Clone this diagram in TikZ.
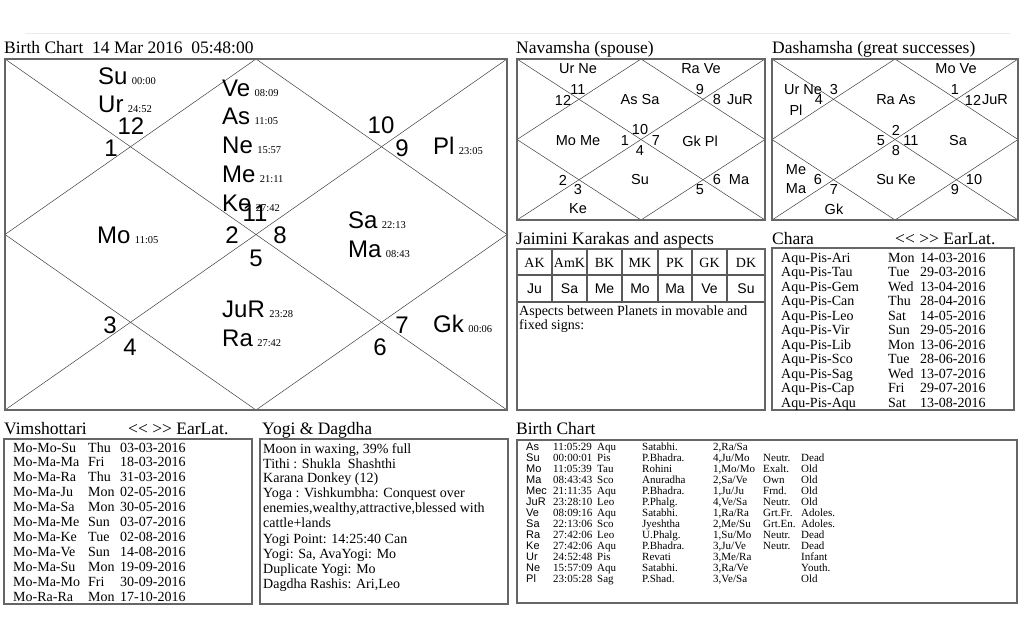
\documentclass[tikz,border=0pt]{standalone}
\usepackage{fontspec}
\setmainfont{Liberation Serif}
\newfontfamily\sansf{Liberation Sans}
\newcommand\kundli[5]{%
  \coordinate (#1-tl) at (#2,#3);
  \coordinate (#1-tr) at (#4,#3);
  \coordinate (#1-bl) at (#2,#5);
  \coordinate (#1-br) at (#4,#5);
  \coordinate (#1-t) at ({(#2+#4)/2},#3);
  \coordinate (#1-b) at ({(#2+#4)/2},#5);
  \coordinate (#1-l) at (#2,{(#3+#5)/2});
  \coordinate (#1-r) at (#4,{(#3+#5)/2});
  \draw[chartline] (#1-tl) -- (#1-br);
  \draw[chartline] (#1-tr) -- (#1-bl);
  \draw[chartline] (#1-t) -- (#1-r) -- (#1-b) -- (#1-l) -- cycle;
  \draw[box] (#1-tl) rectangle (#1-br);
}
\begin{document}
\begin{tikzpicture}[x=1pt,y=-1pt,
  box/.style={draw=black!60, line width=1.5pt},
  thinbox/.style={draw=black!65, line width=1.1pt},
  chartline/.style={draw=black!75, line width=0.5pt},
  title/.style={anchor=base west, inner sep=0, font=\fontsize{17.5}{17.5}\selectfont},
  pl/.style={anchor=base west, inner sep=0, font=\sansf\fontsize{24}{24}\selectfont},
  deg/.style={anchor=base west, inner sep=0, font=\fontsize{10.5}{10.5}\selectfont},
  num/.style={anchor=base, inner sep=0, font=\sansf\fontsize{24}{24}\selectfont},
  sm/.style={anchor=center, inner sep=0, font=\sansf\fontsize{14.5}{14.5}\selectfont},
  row/.style={anchor=base west, inner sep=0, font=\fontsize{14}{14}\selectfont},
  hd/.style={anchor=center, inner sep=0, font=\fontsize{14}{14}\selectfont},
  hs/.style={anchor=center, inner sep=0, font=\sansf\fontsize{14}{14}\selectfont},
  tb/.style={anchor=base west, inner sep=0, font=\fontsize{11}{11}\selectfont},
  tbs/.style={anchor=base west, inner sep=0, font=\sansf\fontsize{11}{11}\selectfont},
]
\useasboundingbox (0,0) rectangle (1024,640);
\fill[white] (0,0) rectangle (1024,640);
\draw[black!8, line width=0.8pt] (25,33) -- (1010,33);

% ---------------- Main birth chart ----------------
\node[title] (t-main) at (4,53) {Birth Chart\ \ 14 Mar 2016\ \ 05:48:00};
\kundli{mc}{5}{59}{507}{410}
\foreach \x/\y/\p/\d [count=\i] in {98/84/Su/00:00, 98/112/Ur/24:52,
   222/96/Ve/08:09, 222/124/As/11:05, 222/153/Ne/15:57, 222/182/Me/21:11,
   222/211/Ke/27:42, 97/243/Mo/11:05, 348/228/Sa/22:13, 348/257/Ma/08:43,
   433/154/Pl/23:05, 222/317/JuR/23:28, 222/346/Ra/27:42, 433/332/Gk/00:06}{
  \node[pl] (mp\i) at (\x,\y) {\p};
  \node[deg] (md\i) at ([xshift=4pt]mp\i.base east) {\d};
}
\foreach \x/\y/\n in {131/134/12, 111/156/1, 381/133/10, 402/156/9,
   255/221/11, 232/243/2, 280/243/8, 256/266/5,
   110/333/3, 130/355/4, 402/333/7, 380/355/6}{
  \node[num] (mn\n) at (\x,\y) {\n};
}

% ---------------- Navamsha ----------------
\node[title] (t-nav) at (516,53) {Navamsha (spouse)};
\kundli{nv}{517}{59}{765}{220}
\foreach \x/\y/\t [count=\i] in {578/69/Ur Ne, 701/69/Ra Ve, 578/90/11, 563/100/12,
   640/100/As Sa, 700/90/9, 717/100/8, 740/100/JuR, 578/141/Mo Me, 625/141/1,
   640/130/10, 656/141/7, 640/151/4, 700/141/Gk Pl, 563/180/2, 578/190/3,
   640/180/Su, 700/190/5, 717/180/6, 739/180/Ma, 578/209/Ke}{
  \node[sm] (nv\i) at (\x,\y) {\t};
}

% ---------------- Dashamsha ----------------
\node[title] (t-das) at (772,53) {Dashamsha (great successes)};
\kundli{ds}{772}{59}{1018}{220}
\foreach \x/\y/\t [count=\i] in {956/69/Mo Ve, 803/90/Ur Ne, 834/90/3, 819/100/4,
   796/110/Pl, 896/100/Ra As, 955/90/1, 973/100/12, 995/100/JuR, 896/130/2,
   881/141/5, 911/141/11, 896/151/8, 958/141/Sa, 796/170/Me, 796/189/Ma,
   818/180/6, 834/190/7, 896/180/Su Ke, 955/190/9, 974/180/10, 834/209/Gk}{
  \node[sm] (ds\i) at (\x,\y) {\t};
}

% ---------------- Jaimini ----------------
\node[title] (t-jai) at (516,244) {Jaimini Karakas and aspects};
\draw[thinbox] (517,275) -- (765,275);
\draw[thinbox] (517,302) -- (765,302);
\foreach \x in {552,587,622,658,692,727}{
  \draw[thinbox] (\x,249) -- (\x,302);
}
\draw[box] (517,249) rectangle (765,410);
\foreach \x/\h/\p [count=\i] in {534.5/AK/Ju, 569.5/AmK/Sa, 604.5/BK/Me, 640/MK/Mo,
   675/PK/Ma, 709.5/GK/Ve, 746/DK/Su}{
  \node[hd] (jh\i) at (\x,263) {\h};
  \node[hs] (jp\i) at (\x,289) {\p};
}
\node[row] (asp1) at (519,315) {Aspects between Planets in movable and};
\node[row] (asp2) at (519,329) {fixed signs:};

% ---------------- Chara ----------------
\node[title] (t-cha) at (772,244) {Chara};
\node[title] (t-cha2) at (895,244) {{<}{<}\ {>}{>} EarLat.};
\draw[box] (772,248) rectangle (1014,410);
\foreach \a/\b/\c [count=\i from 0] in {Aqu-Pis-Ari/Mon/14-03-2016, Aqu-Pis-Tau/Tue/29-03-2016,
   Aqu-Pis-Gem/Wed/13-04-2016, Aqu-Pis-Can/Thu/28-04-2016, Aqu-Pis-Leo/Sat/14-05-2016,
   Aqu-Pis-Vir/Sun/29-05-2016, Aqu-Pis-Lib/Mon/13-06-2016, Aqu-Pis-Sco/Tue/28-06-2016,
   Aqu-Pis-Sag/Wed/13-07-2016, Aqu-Pis-Cap/Fri/29-07-2016, Aqu-Pis-Aqu/Sat/13-08-2016}{
  \node[row] (ca\i) at (781,{262+14.5*\i}) {\a};
  \node[row] (cb\i) at (888,{262+14.5*\i}) {\b};
  \node[row] (cc\i) at (920,{262+14.5*\i}) {\c};
}

% ---------------- Vimshottari ----------------
\node[title] (t-vim) at (4,434) {Vimshottari};
\node[title] (t-vim2) at (128,434) {{<}{<}\ {>}{>} EarLat.};
\draw[box] (4,439) rectangle (252,604);
\foreach \a/\b/\c [count=\i from 0] in {Mo-Mo-Su/Thu/03-03-2016, Mo-Ma-Ma/Fri/18-03-2016,
   Mo-Ma-Ra/Thu/31-03-2016, Mo-Ma-Ju/Mon/02-05-2016, Mo-Ma-Sa/Mon/30-05-2016,
   Mo-Ma-Me/Sun/03-07-2016, Mo-Ma-Ke/Tue/02-08-2016, Mo-Ma-Ve/Sun/14-08-2016,
   Mo-Ma-Su/Mon/19-09-2016, Mo-Ma-Mo/Fri/30-09-2016, Mo-Ra-Ra/Mon/17-10-2016}{
  \node[row] (va\i) at (13,{452+14.9*\i}) {\a};
  \node[row] (vb\i) at (88,{452+14.9*\i}) {\b};
  \node[row] (vc\i) at (120,{452+14.9*\i}) {\c};
}

% ---------------- Yogi & Dagdha ----------------
\node[title] (t-yog) at (262,434) {Yogi \& Dagdha};
\draw[box] (260,439) rectangle (508,604);
\node[row] (y1) at (263,453) {Moon in waxing, 39\% full};
\node[row] (y2) at (263,468) {Tithi : Shukla\ \ Shashthi};
\node[row] (y3) at (263,482) {Karana Donkey (12)};
\node[row] (y4) at (263,497) {Yoga : Vishkumbha: Conquest over};
\node[row] (y5) at (263,512) {enemies,wealthy,attractive,blessed with};
\node[row] (y6) at (263,527) {cattle+lands};
\node[row] (y7) at (263,543) {Yogi Point: 14:25:40 Can};
\node[row] (y8) at (263,558) {Yogi: Sa, AvaYogi: Mo};
\node[row] (y9) at (263,573) {Duplicate Yogi: Mo};
\node[row] (y10) at (263,588) {Dagdha Rashis: Ari,Leo};

% ---------------- Birth Chart table ----------------
\node[title] (t-bc) at (516,434) {Birth Chart};
\draw[box] (517,440) rectangle (1017,603);
\foreach \a/\b/\c/\d/\e/\f/\g [count=\i from 0] in {
   As/11:05:29/Aqu/Satabhi./{2,Ra/Sa}/{}/{},
   Su/00:00:01/Pis/P.Bhadra./{4,Ju/Mo}/Neutr./Dead,
   Mo/11:05:39/Tau/Rohini/{1,Mo/Mo}/Exalt./Old,
   Ma/08:43:43/Sco/Anuradha/{2,Sa/Ve}/Own/Old,
   Mec/21:11:35/Aqu/P.Bhadra./{1,Ju/Ju}/Frnd./Old,
   JuR/23:28:10/Leo/P.Phalg./{4,Ve/Sa}/Neutr./Old,
   Ve/08:09:16/Aqu/Satabhi./{1,Ra/Ra}/Grt.Fr./Adoles.,
   Sa/22:13:06/Sco/Jyeshtha/{2,Me/Su}/Grt.En./Adoles.,
   Ra/27:42:06/Leo/U.Phalg./{1,Su/Mo}/Neutr./Dead,
   Ke/27:42:06/Aqu/P.Bhadra./{3,Ju/Ve}/Neutr./Dead,
   Ur/24:52:48/Pis/Revati/{3,Me/Ra}/{}/Infant,
   Ne/15:57:09/Aqu/Satabhi./{3,Ra/Ve}/{}/Youth.,
   Pl/23:05:28/Sag/P.Shad./{3,Ve/Sa}/{}/Old}{
  \node[tbs] (ba\i) at (526,{450+11.08*\i}) {\a};
  \node[tb] (bb\i) at (553,{450+11.08*\i}) {\b};
  \node[tb] (bc\i) at (597,{450+11.08*\i}) {\c};
  \node[tb] (bd\i) at (642,{450+11.08*\i}) {\d};
  \node[tb] (be\i) at (713,{450+11.08*\i}) {\e};
  \node[tb] (bf\i) at (763,{450+11.08*\i}) {\f};
  \node[tb] (bg\i) at (801,{450+11.08*\i}) {\g};
}
\end{tikzpicture}
\end{document}
